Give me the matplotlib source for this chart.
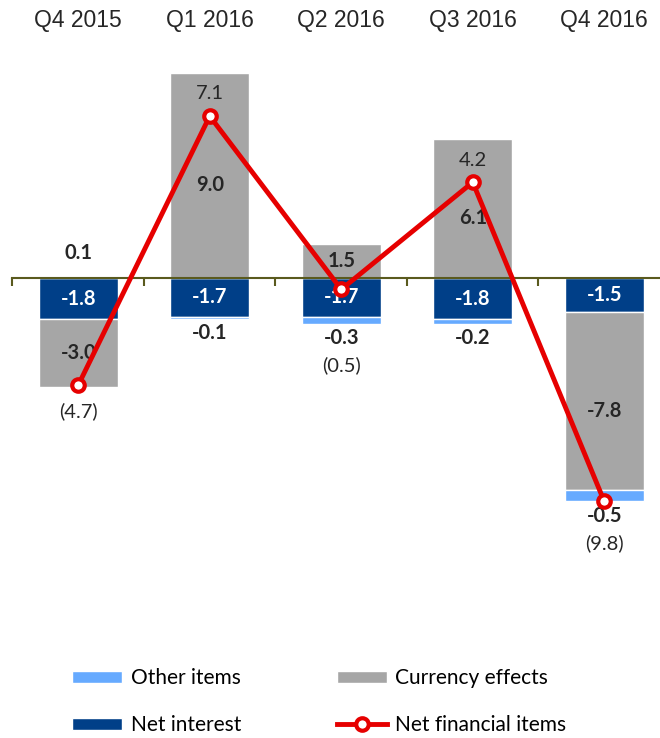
#!/usr/bin/env python3
"""Net financial items by quarter - stacked bars with total line."""

import matplotlib
import matplotlib.pyplot as plt
import matplotlib.transforms as mtransforms
import numpy as np

matplotlib.use("Agg")

quarters = ["Q4 2015", "Q1 2016", "Q2 2016", "Q3 2016", "Q4 2016"]
net_interest = [-1.8, -1.7, -1.7, -1.8, -1.5]
currency_effects = [-3.0, 9.0, 1.5, 6.1, -7.8]
other_items = [0.1, -0.1, -0.3, -0.2, -0.5]
net_financial = [-4.7, 7.1, -0.5, 4.2, -9.8]

COLORS = {
    "Net interest": "#003f88",
    "Currency effects": "#a6a6a6",
    "Other items": "#66aaff",
    "Net financial items": "#e60000",
}
AXIS_COLOR = "#5a5a1e"
TEXT_DARK = "#262626"
LABEL_FONT = ["Lato", "DejaVu Sans"]
LABEL_SIZE = 14.5

fig = plt.figure(figsize=(6.6, 7.38), dpi=100)
ax = fig.add_axes([0.0189, 0.2412, 0.9811, 0.7046])

x = np.arange(len(quarters))
width = 0.6
pos_bottom = np.zeros(len(x))
neg_bottom = np.zeros(len(x))
segments = {}

# stack negatives downwards and positives upwards, in this order
for name, vals in [("Net interest", net_interest),
                   ("Currency effects", currency_effects),
                   ("Other items", other_items)]:
    vals = np.array(vals)
    bottom = np.where(vals >= 0, pos_bottom, neg_bottom)
    ax.bar(x, vals, width, bottom=bottom, color=COLORS[name],
           edgecolor="white", linewidth=1, label=name, zorder=1)
    segments[name] = (bottom, vals)
    pos_bottom += np.where(vals >= 0, vals, 0)
    neg_bottom += np.where(vals < 0, vals, 0)

ax.plot(x, net_financial, color=COLORS["Net financial items"], linewidth=3.5,
        marker="o", markersize=9, markerfacecolor="white",
        markeredgecolor=COLORS["Net financial items"], markeredgewidth=3,
        label="Net financial items", zorder=4)

# labels inside the net interest bars
b, v = segments["Net interest"]
for i in x:
    ax.text(i, b[i] + v[i] / 2, f"{v[i]:.1f}", ha="center", va="center",
            color="white", fontsize=LABEL_SIZE, fontweight="bold",
            family=LABEL_FONT, zorder=3)

# labels inside the currency bars (big segments: nudged a little lower)
b, v = segments["Currency effects"]
for i in x:
    dy = -7 if abs(v[i]) > 3 else 0
    ax.annotate(f"{v[i]:.1f}", (i, b[i] + v[i] / 2), xytext=(0, dy),
                textcoords="offset points", ha="center", va="center",
                color=TEXT_DARK, fontsize=LABEL_SIZE, fontweight="bold",
                family=LABEL_FONT, zorder=3)

# labels just outside the other items segment
b, v = segments["Other items"]
for i in x:
    if v[i] >= 0:
        ax.annotate(f"{v[i]:.1f}", (i, b[i] + v[i]), xytext=(0, 9),
                    textcoords="offset points", ha="center", va="bottom",
                    color=TEXT_DARK, fontsize=LABEL_SIZE, fontweight="bold",
                    family=LABEL_FONT)
    else:
        ax.annotate(f"{v[i]:.1f}", (i, b[i] + v[i]), xytext=(0, -3),
                    textcoords="offset points", ha="center", va="top",
                    color=TEXT_DARK, fontsize=LABEL_SIZE, fontweight="bold",
                    family=LABEL_FONT)

# totals: above the marker when positive, under the stack when negative
for i in x:
    t = net_financial[i]
    if t >= 0:
        ax.annotate(f"{t:.1f}", (i, t), xytext=(0, 16), textcoords="offset points",
                    ha="center", va="center", color=TEXT_DARK, fontsize=LABEL_SIZE,
                    family=LABEL_FONT, zorder=3)
    else:
        extra = -30 if other_items[i] < 0 else -17
        ax.annotate(f"({abs(t):.1f})", (i, neg_bottom[i]), xytext=(0, extra),
                    textcoords="offset points", ha="center", va="center",
                    color=TEXT_DARK, fontsize=LABEL_SIZE, family=LABEL_FONT, zorder=3)

# quarter names across the top
trans = mtransforms.blended_transform_factory(ax.transData, ax.transAxes)
for i, q in enumerate(quarters):
    ax.text(i, 1.038, q, transform=trans, ha="center", va="center",
            fontsize=16.5, color=TEXT_DARK, family=["Liberation Sans", "DejaVu Sans"])

ax.set_xlim(-0.5, 4.424)
ax.set_ylim(-12.37, 10.44)
for s in ["top", "left", "right"]:
    ax.spines[s].set_visible(False)
ax.spines["bottom"].set_position(("data", 0))
ax.spines["bottom"].set_color(AXIS_COLOR)
ax.spines["bottom"].set_linewidth(1.5)
ax.set_xticks(np.arange(-0.5, 4.5, 1.0))
ax.set_xticklabels([])
ax.tick_params(axis="x", direction="out", length=6, width=1.5, color=AXIS_COLOR)
ax.set_yticks([])

handles, labels = ax.get_legend_handles_labels()
order = ["Other items", "Net interest", "Currency effects", "Net financial items"]
hmap = dict(zip(labels, handles))
fig.legend([hmap[k] for k in order], order, ncol=2, loc="upper left",
           bbox_to_anchor=(0.094, 0.109), frameon=False, borderpad=0,
           handlelength=2.4, handleheight=0.5, handletextpad=0.4,
           columnspacing=4.6, labelspacing=1.3,
           prop={"family": LABEL_FONT, "size": 15})

fig.savefig("out.png", dpi=100)
